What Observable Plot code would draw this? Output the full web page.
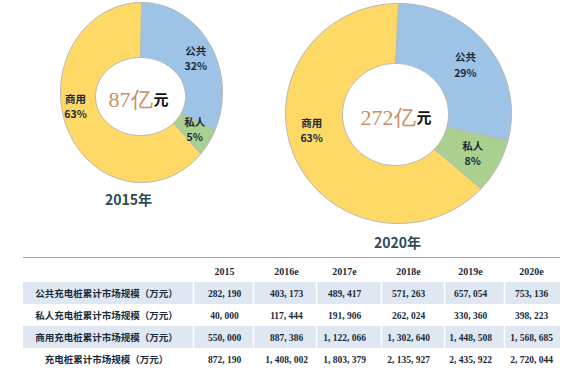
<!DOCTYPE html>
<html><head><meta charset="utf-8">
<script src="https://cdn.jsdelivr.net/npm/d3@7"></script>
<script src="https://cdn.jsdelivr.net/npm/@observablehq/plot@0.6"></script>
<style>
html,body{margin:0;padding:0;background:#fff;}
#chart{width:568px;height:368px;overflow:hidden;}
</style></head>
<body><div id="chart"></div>
<script>
// ---- data ----
const segments = ["公共", "私人", "商用"];
const share2015 = [32, 5, 63];
const share2020 = [29, 8, 63];
const totals = ["87", "272"];
const totalUnit = "亿";
const yearLabels = ["2015年", "2020年"];
const colLabels = ["2015", "2016e", "2017e", "2018e", "2019e", "2020e"];
const rowLabels = ["公共充电桩累计市场规模（万元）", "私人充电桩累计市场规模（万元）", "商用充电桩累计市场规模（万元）", "充电桩累计市场规模（万元）"];
const publicVals = [282190, 403173, 489417, 571263, 657054, 753136];
const privateVals = [40000, 117444, 191906, 262024, 330360, 398223];
const commercialVals = [550000, 887386, 1122066, 1302640, 1448508, 1568685];
const totalVals = [872190, 1408002, 1803379, 2135927, 2435922, 2720044];

// ---- layout (styling only) ----
const segColors = ["#9dc3e6", "#a9d08e", "#ffd966"];
const donuts = [
  {shares: share2015, cx: 141, cy: 92, rx: 81, ry: 90, icx: 140, icy: 96, irx: 45, iry: 39, yearY: 200},
  {shares: share2020, cx: 398, cy: 113, rx: 113, ry: 110, icx: 395, icy: 114, irx: 53, iry: 51, yearY: 243}
];
const colX = [224, 286, 344, 408, 470, 531];
const bounds = [193, 253, 316, 381, 444, 504];
const rowY = [293, 315, 337, 359];
const tableLeft = 23, tableRight = 560;

// build wedges from shares
const wedgePts = [];
const segLabels = [];
donuts.forEach((d, di) => {
  let acc = 0;
  d.shares.forEach((s, si) => {
    const a0 = acc / 100 * 2 * Math.PI, a1 = (acc + s) / 100 * 2 * Math.PI;
    const n = Math.max(4, Math.ceil(s * 1.5));
    const key = di + "-" + si;
    for (let k = 0; k <= n; k++) {
      const a = a0 + (a1 - a0) * k / n;
      wedgePts.push({key, color: segColors[si], x: d.cx + d.rx * Math.sin(a), y: d.cy - d.ry * Math.cos(a)});
    }
    for (let k = n; k >= 0; k--) {
      const a = a0 + (a1 - a0) * k / n;
      wedgePts.push({key, color: segColors[si], x: d.icx + d.irx * Math.sin(a), y: d.icy - d.iry * Math.cos(a)});
    }
    const am = (acc + s / 2) / 100 * 2 * Math.PI;
    const rxm = d.irx + (d.rx - d.irx) * 0.5, rym = d.iry + (d.ry - d.iry) * 0.5;
    segLabels.push({text: segments[si] + "\n" + s + "%", x: d.cx + rxm * Math.sin(am) * (si === 2 ? 1.14 : 1.02), y: d.cy - rym * Math.cos(am) * (si === 2 ? 0.5 : 1)});
    acc += s;
  });
});

const centerTexts = donuts.map((d, i) => ({num: totals[i] + totalUnit, x: d.icx + (i === 0 ? 12 : 20), y: d.icy + 3}));
const years = donuts.map((d, i) => ({t: yearLabels[i], x: d.cx - (i === 0 ? 13 : 1), y: d.yearY}));

const fmt = v => d3.format(",")(v).replace(/,/g, ", ");
const rows = [publicVals, privateVals, commercialVals, totalVals];
const cells = [];
rows.forEach((r, ri) => r.forEach((v, ci) => cells.push({t: fmt(v), x: colX[ci], y: rowY[ri]})));
const rowLab = rowLabels.map((t, i) => ({t, x: 106, y: rowY[i]}));
const headers = colLabels.map((t, i) => ({t, x: colX[i], y: 271}));
const bands = [0, 2].map(i => ({y1: rowY[i] - 11, y2: rowY[i] + 11}));
const seps = [];
bands.forEach(b => bounds.forEach(x => seps.push({x, y1: b.y1, y2: b.y2})));

const fontSans = "'Noto Sans CJK SC', 'Noto Sans', sans-serif";
const fontSerif = "'Liberation Serif', 'DejaVu Serif', serif";
const plot = Plot.plot({
  width: 568, height: 368, margin: 0,
  x: {domain: [0, 568], range: [0, 568], axis: null},
  y: {domain: [0, 368], range: [0, 368], axis: null},
  color: {type: "identity"},
  style: {background: "#fff"},
  marks: [
    // donut wedges
    Plot.line(wedgePts, {x: "x", y: "y", z: "key", fill: "color", stroke: "#b8b8b8", strokeWidth: 1, curve: "linear-closed"}),
    Plot.text(segLabels, {x: "x", y: "y", text: "text", fontSize: 10.5, fontWeight: "bold", fill: "#1c2a3a", lineHeight: 1.45, fontFamily: fontSans}),
    Plot.text(centerTexts, {x: "x", y: "y", text: "num", textAnchor: "end", fontSize: 22, fill: "#c98f62", fontFamily: fontSerif}),
    Plot.text(centerTexts, {x: d => d.x + 1, y: d => d.y + 1, text: () => "元", textAnchor: "start", fontSize: 15, fontWeight: "bold", fill: "#111", fontFamily: fontSans}),
    Plot.text(years, {x: "x", y: "y", text: "t", fontSize: 14, fontWeight: "bold", fill: "#2f4a5a", fontFamily: fontSans}),
    // table
    Plot.ruleY([257], {x1: tableLeft, x2: tableRight, stroke: "#9ea7b2", strokeWidth: 1}),
    Plot.rect(bands, {x1: tableLeft, x2: tableRight, y1: "y1", y2: "y2", fill: "#dfe7f2"}),
    Plot.ruleX(seps, {x: "x", y1: "y1", y2: "y2", stroke: "#fff", strokeWidth: 1.5}),
    Plot.text(headers, {x: "x", y: "y", text: "t", fontSize: 10, fontWeight: "bold", fill: "#1c2a3a", fontFamily: fontSerif}),
    Plot.text(rowLab, {x: "x", y: "y", text: "t", fontSize: 9.5, fontWeight: "bold", fill: "#1c2a3a", fontFamily: fontSans}),
    Plot.text(cells, {x: "x", y: "y", text: "t", fontSize: 9.5, fontWeight: "bold", fill: "#1c2a3a", fontFamily: fontSerif})
  ]
});
document.getElementById("chart").appendChild(plot);
</script>
</body></html>
